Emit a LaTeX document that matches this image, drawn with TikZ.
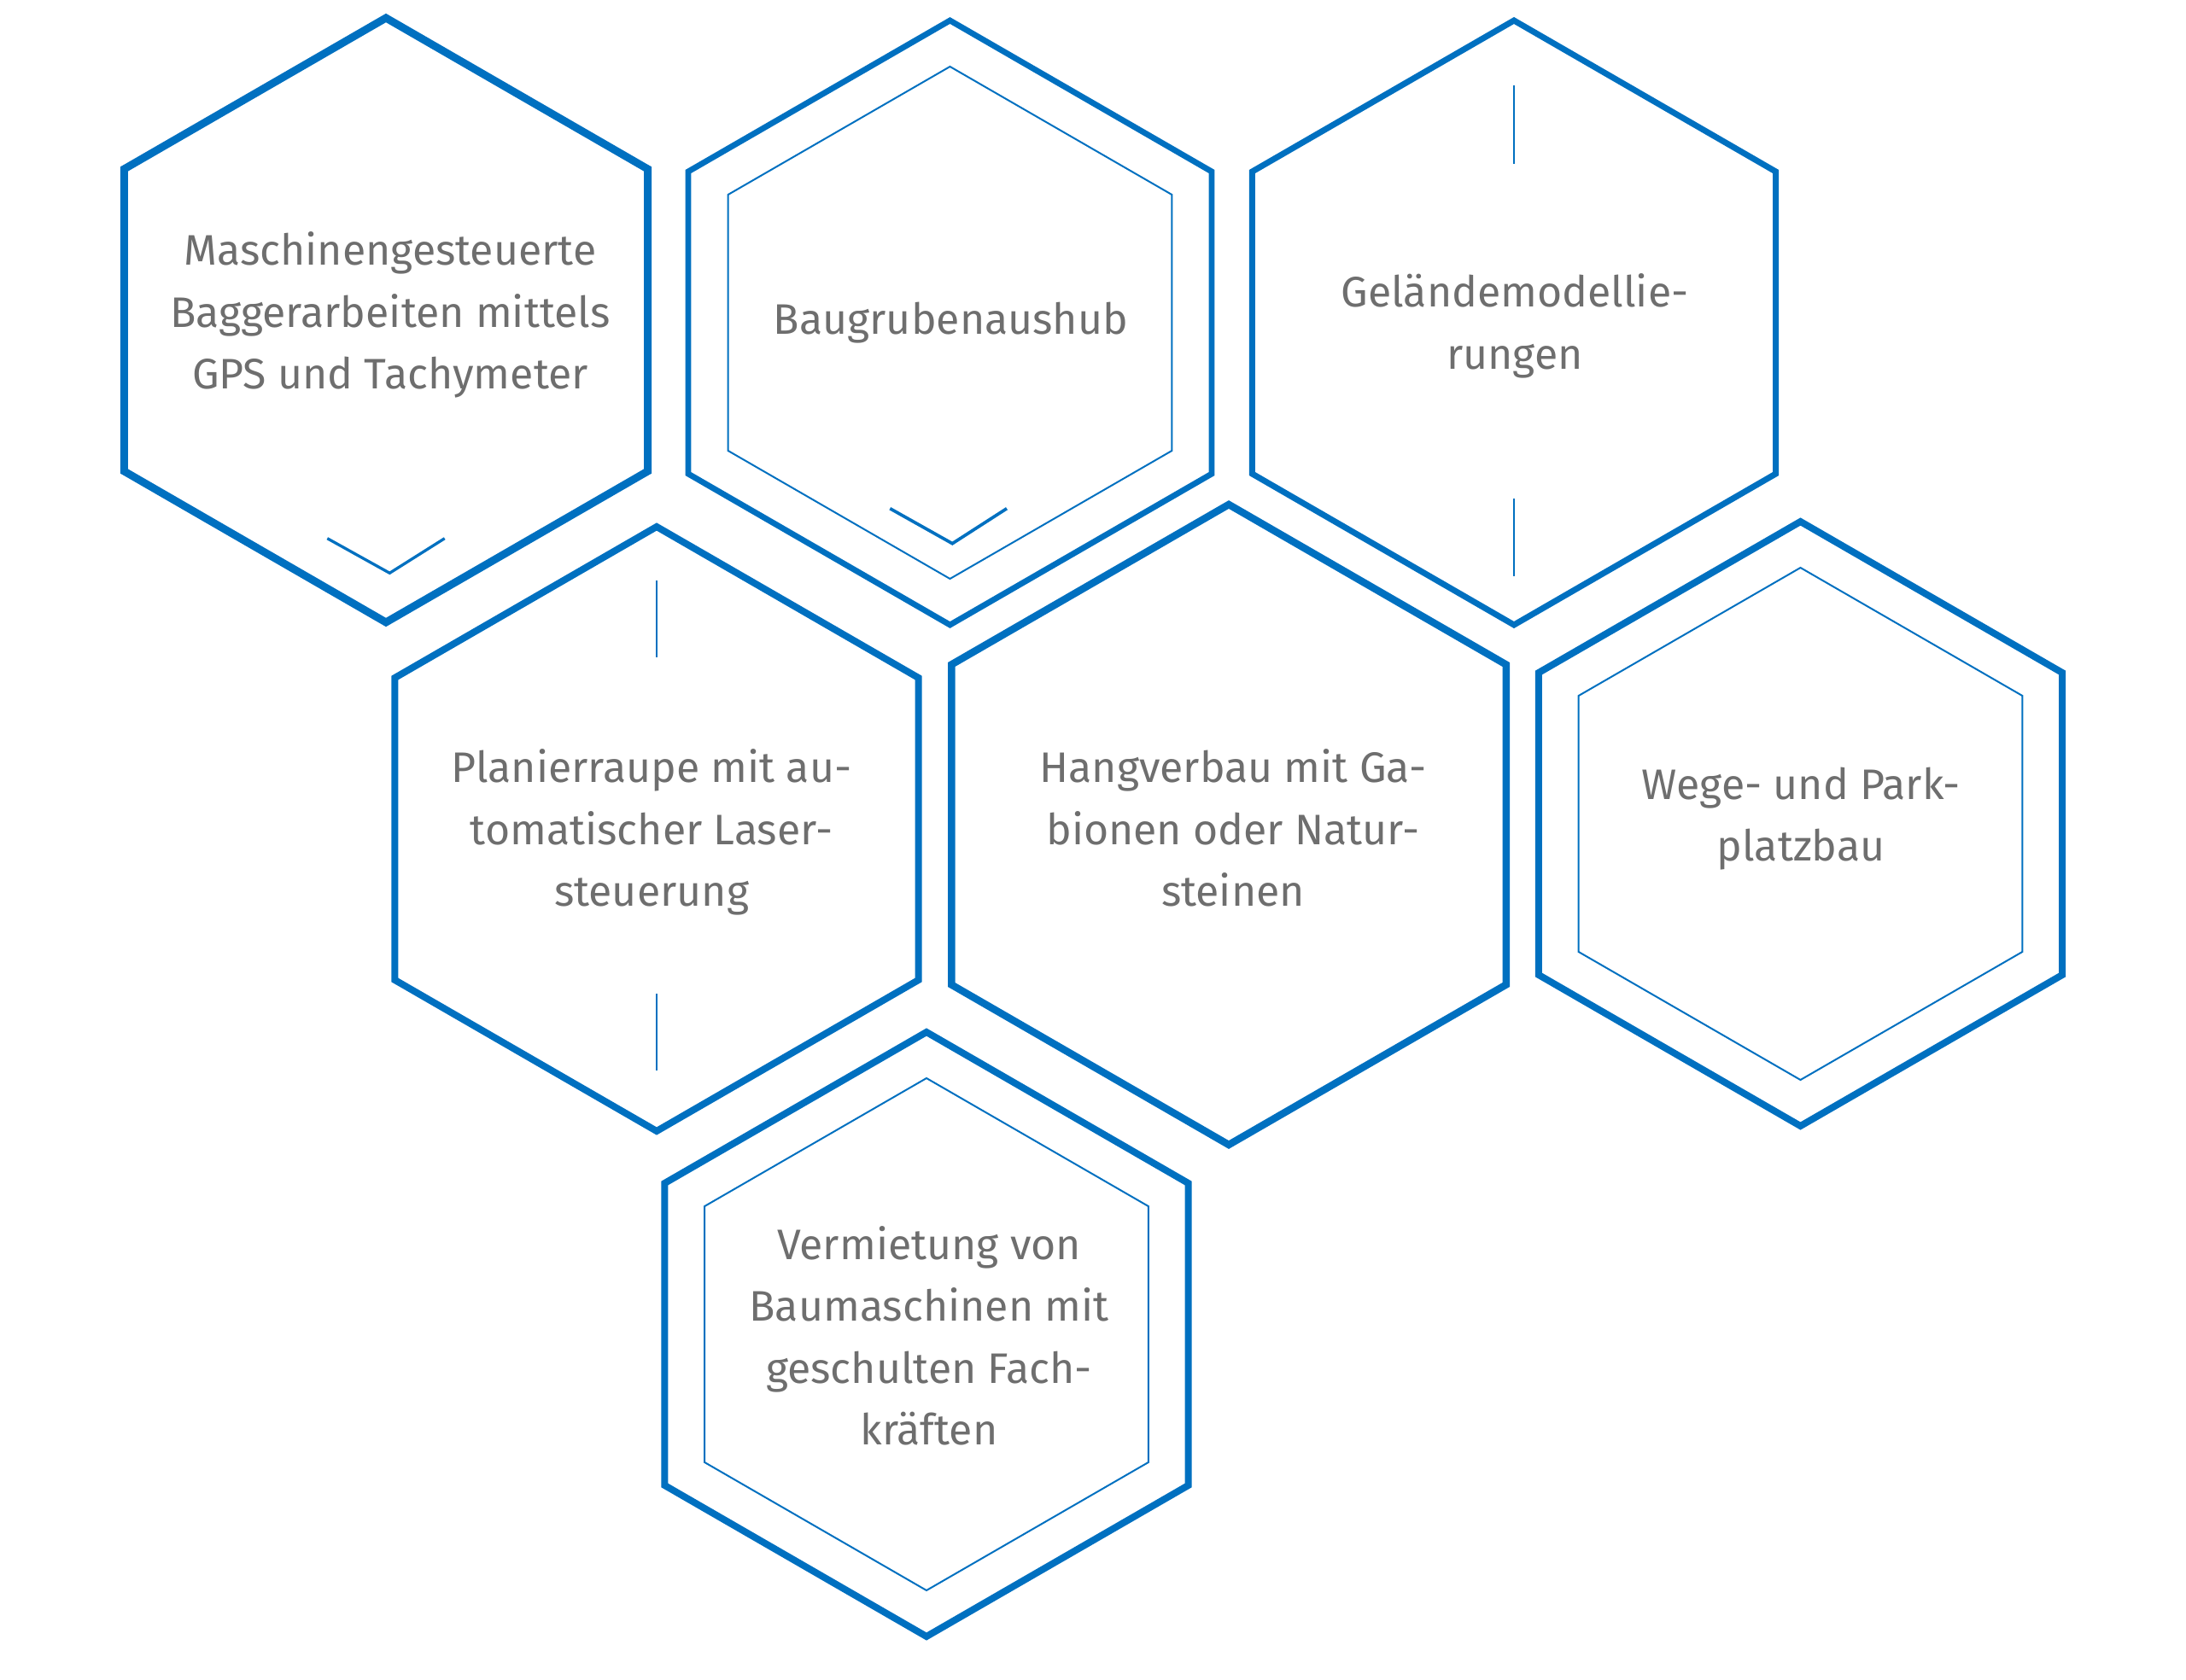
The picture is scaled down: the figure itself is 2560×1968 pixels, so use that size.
\documentclass[tikz,border=0pt]{standalone}
\usepackage{fontspec}
\setmainfont{Fira Sans}
\definecolor{hexblue}{RGB}{0,112,192}
\definecolor{txtgray}{RGB}{110,110,110}
\newcommand\hexshape[4][]{%
  \draw[hexline,#1] (#2,#3-#4) -- ({#2+0.8660254*#4},{#3-0.5*#4}) --
    ({#2+0.8660254*#4},{#3+0.5*#4}) -- (#2,#3+#4) --
    ({#2-0.8660254*#4},{#3+0.5*#4}) -- ({#2-0.8660254*#4},{#3-0.5*#4}) -- cycle;}
\begin{document}
\begin{tikzpicture}[x=1pt,y=-1pt,
  hexline/.style={draw=hexblue,line join=miter},
  thick hex/.style={line width=8.5pt},
  mid hex/.style={line width=6.8pt},
  inner hex/.style={line width=2pt},
  deco/.style={draw=hexblue,line width=2pt},
  chev/.style={draw=hexblue,line width=3.3pt},
  txt/.style={align=center,text=txtgray,inner sep=0pt,
    font=\fontsize{50}{72.5}\selectfont}]
\useasboundingbox (0,0) rectangle (2560,1968);
% hexagon 1
\hexshape[line width=9pt]{452}{375}{354}
\draw[chev] (383.3,630.7) -- (456.3,671.3) -- (520.7,630.7);
\node[txt] (t1) at (457,369) {Maschinengesteuerte\\Baggerarbeiten mittels\\GPS und Tachymeter};
% hexagon 2
\hexshape[mid hex]{1112.5}{378}{354}
\hexshape[inner hex]{1112.5}{378}{300}
\draw[chev,line width=3.7pt] (1042.3,595.7) -- (1115.3,636.7) -- (1179,595.7);
\node[txt] (t2) at (1113.5,378) {Baugrubenaushub};
% hexagon 3
\hexshape[line width=7pt]{1773}{378}{354}
\draw[deco] (1773,100) -- (1773,191.5);
\draw[deco] (1773,584) -- (1773,675);
\node[txt] (t3) at (1774,382) {Geländemodellie-\\rungen};
% hexagon 4
\hexshape[line width=8pt]{769}{971}{354}
\draw[deco] (769,680) -- (769,770);
\draw[deco] (769,1164) -- (769,1254);
\node[txt] (t4) at (763,975) {Planierraupe mit au-\\tomatischer Laser-\\steuerung};
% hexagon 5
\hexshape[thick hex]{1439}{966}{375}
\node[txt] (t5) at (1444,970) {Hangverbau mit Ga-\\bionen oder Natur-\\steinen};
% hexagon 6
\hexshape[line width=8pt]{2108.5}{965}{354}
\hexshape[inner hex]{2108.5}{965}{300}
\node[txt] (t6) at (2109,959) {Wege- und Park-\\platzbau};
% hexagon 7
\hexshape[line width=8pt]{1085}{1563}{354}
\hexshape[inner hex]{1085}{1563}{300}
\node[txt] (t7) at (1088,1565) {Vermietung von\\Baumaschinen mit\\geschulten Fach-\\kräften};
\end{tikzpicture}
\end{document}
